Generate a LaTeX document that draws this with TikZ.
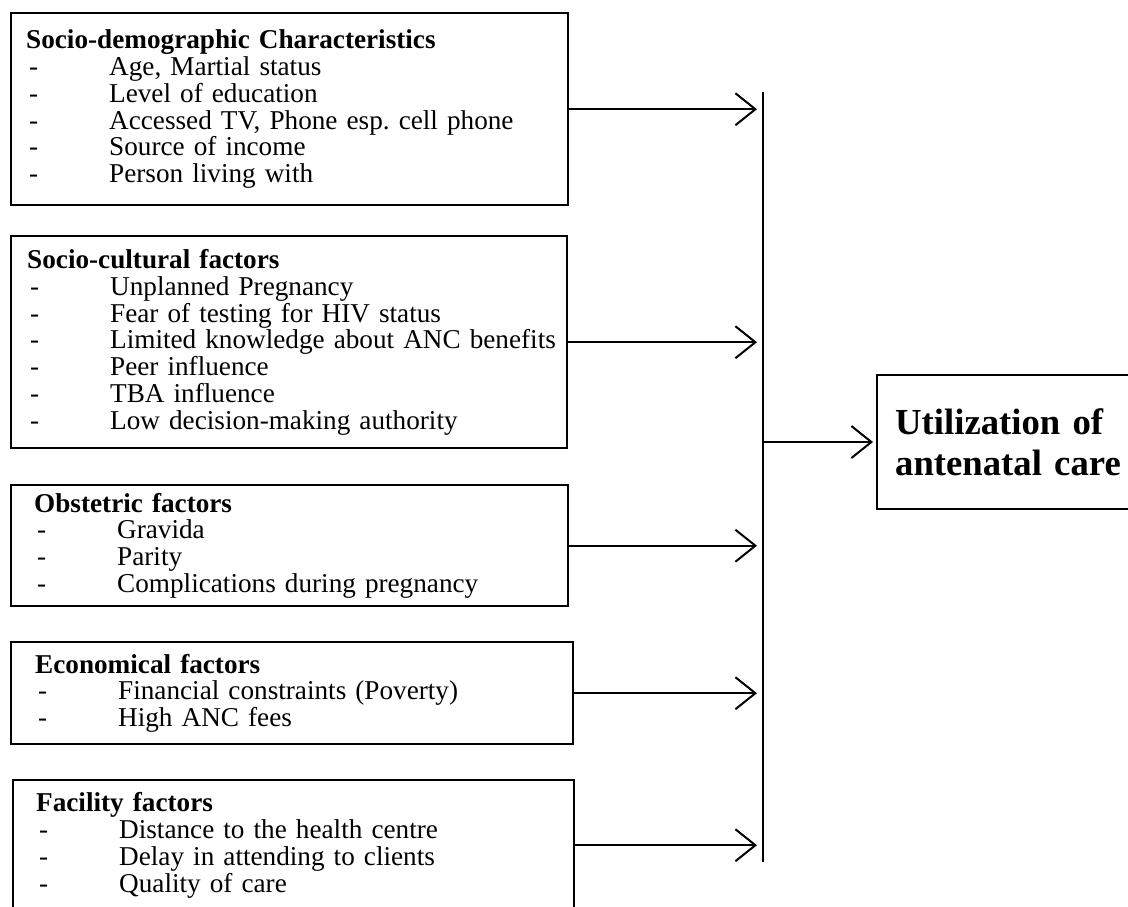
\documentclass[tikz,border=0pt]{standalone}
\usepackage{fontspec}
\setmainfont{Liberation Serif}
\usepackage{tikz}
\usetikzlibrary{arrows.meta,positioning,calc}
\frenchspacing
\newcommand\itm[1]{\mbox{\makebox[83pt][l]{\hspace{3pt}-}#1}}
\tikzset{
  factor/.style={draw=black,line width=2.4pt,anchor=north west,align=left,
    inner ysep=0pt,font=\fontsize{27.2}{26.8}\selectfont},
  target/.style={draw=black,line width=2.4pt,anchor=west,align=left,
    inner xsep=18pt,text width=234pt,minimum height=134pt,
    font=\fontsize{36.7}{41}\selectfont\bfseries},
  link/.style={line width=2pt,-{Straight Barb[length=20pt,width=32pt,line width=2pt]}}
}
\begin{document}
\begin{tikzpicture}[x=1pt,y=-1pt]
\clip (0,0) rectangle (1128,906);
\fill[white] (0,0) rectangle (1128,906);
% factor boxes
\node[factor,inner xsep=15pt,text width=527pt,minimum height=192pt] (demo) at (10,12)
  {\textbf{Socio-demographic Characteristics}\\
   \itm{Age, Martial status}\\
   \itm{Level of education}\\
   \itm{Accessed TV, Phone esp. cell phone}\\
   \itm{Source of income}\\
   \itm{Person living with}};
\node[factor,inner xsep=16pt,text width=524pt,minimum height=212pt] (cult) at (10,235)
  {\textbf{Socio-cultural factors}\\
   \itm{Unplanned Pregnancy}\\
   \itm{Fear of testing for HIV status}\\
   \itm{Limited knowledge about ANC benefits}\\
   \itm{Peer influence}\\
   \itm{TBA influence}\\
   \itm{Low decision-making authority}};
\node[factor,inner xsep=23pt,text width=511pt,minimum height=121pt] (obst) at (10,484)
  {\textbf{Obstetric factors}\\
   \itm{Gravida}\\
   \itm{Parity}\\
   \itm{Complications during pregnancy}};
\node[factor,inner xsep=24pt,text width=514pt,minimum height=102pt] (econ) at (10,641)
  {\textbf{Economical factors}\\
   \itm{Financial constraints (Poverty)}\\
   \itm{High ANC fees}};
\node[factor,inner xsep=23pt,text width=515pt,minimum height=130pt] (faci) at (12,779)
  {\textbf{Facility factors}\\
   \itm{Distance to the health centre}\\
   \itm{Delay in attending to clients}\\
   \itm{Quality of care}};
% outcome
\node[target] (anc) at (876,442) {Utilization of\\antenatal care};
% collecting line
\coordinate (top) at (763,92);
\coordinate (bot) at (763,862);
\draw[line width=2.6pt] (top) -- (bot);
\foreach \src in {demo,cult,obst,econ,faci}
  \draw[link] (\src.east) -- ([xshift=-6pt]\src.east -| top);
\draw[link,shorten >=3pt] (anc.west -| top) -- (anc.west);
\end{tikzpicture}
\end{document}
